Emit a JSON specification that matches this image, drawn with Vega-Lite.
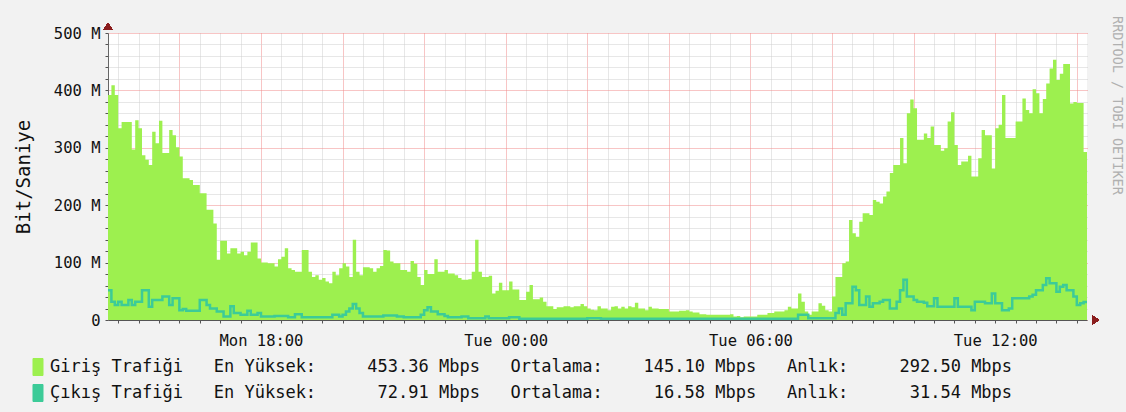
{
  "$schema": "https://vega.github.io/schema/vega-lite/v6.json",
  "width": 979,
  "height": 287,
  "autosize": "none",
  "padding": {"left": 108, "top": 33, "right": 39, "bottom": 92},
  "background": "#F2F2F2",
  "view": {"fill": "#FFFFFF", "stroke": null},
  "config": {"font": "DejaVu Sans Mono"},
  "title": {"text": "RRDTOOL / TOBI OETIKER", "orient": "right", "anchor": "start", "frame": "group", "offset": 10, "dx": -17, "font": "DejaVu Sans Mono", "fontSize": 13.5, "fontWeight": "normal", "color": "#B0B0B0"},
  "data": {"values": [
    {"t":"2024-01-15T14:15","i":392,"o":52},{"t":"2024-01-15T14:20","i":409,"o":32},{"t":"2024-01-15T14:25","i":392,"o":26},{"t":"2024-01-15T14:30","i":334,"o":32},{"t":"2024-01-15T14:35","i":345,"o":26},{"t":"2024-01-15T14:40","i":345,"o":26},{"t":"2024-01-15T14:45","i":345,"o":35},{"t":"2024-01-15T14:50","i":297,"o":26},{"t":"2024-01-15T14:55","i":348,"o":32},
    {"t":"2024-01-15T15:00","i":334,"o":32},{"t":"2024-01-15T15:05","i":287,"o":52},{"t":"2024-01-15T15:10","i":279,"o":52},{"t":"2024-01-15T15:15","i":270,"o":23},{"t":"2024-01-15T15:20","i":328,"o":35},{"t":"2024-01-15T15:25","i":308,"o":35},{"t":"2024-01-15T15:30","i":347,"o":35},{"t":"2024-01-15T15:35","i":291,"o":41},{"t":"2024-01-15T15:40","i":291,"o":41},{"t":"2024-01-15T15:45","i":331,"o":26},{"t":"2024-01-15T15:50","i":322,"o":38},{"t":"2024-01-15T15:55","i":301,"o":38},
    {"t":"2024-01-15T16:00","i":285,"o":17},{"t":"2024-01-15T16:05","i":247,"o":19},{"t":"2024-01-15T16:10","i":247,"o":16},{"t":"2024-01-15T16:15","i":244,"o":16},{"t":"2024-01-15T16:20","i":235,"o":16},{"t":"2024-01-15T16:25","i":235,"o":16},{"t":"2024-01-15T16:30","i":221,"o":35},{"t":"2024-01-15T16:35","i":221,"o":35},{"t":"2024-01-15T16:40","i":192,"o":26},{"t":"2024-01-15T16:45","i":192,"o":20},{"t":"2024-01-15T16:50","i":168,"o":20},{"t":"2024-01-15T16:55","i":105,"o":15},
    {"t":"2024-01-15T17:00","i":138,"o":15},{"t":"2024-01-15T17:05","i":138,"o":6},{"t":"2024-01-15T17:10","i":116,"o":6},{"t":"2024-01-15T17:15","i":125,"o":24},{"t":"2024-01-15T17:20","i":125,"o":12},{"t":"2024-01-15T17:25","i":116,"o":12},{"t":"2024-01-15T17:30","i":119,"o":9},{"t":"2024-01-15T17:35","i":113,"o":9},{"t":"2024-01-15T17:40","i":119,"o":16},{"t":"2024-01-15T17:45","i":135,"o":9},{"t":"2024-01-15T17:50","i":135,"o":9},{"t":"2024-01-15T17:55","i":107,"o":12},
    {"t":"2024-01-15T18:00","i":100,"o":6},{"t":"2024-01-15T18:05","i":100,"o":6},{"t":"2024-01-15T18:10","i":99,"o":6},{"t":"2024-01-15T18:15","i":99,"o":6},{"t":"2024-01-15T18:20","i":93,"o":7},{"t":"2024-01-15T18:25","i":106,"o":7},{"t":"2024-01-15T18:30","i":110,"o":7},{"t":"2024-01-15T18:35","i":125,"o":7},{"t":"2024-01-15T18:40","i":90,"o":5},{"t":"2024-01-15T18:45","i":87,"o":5},{"t":"2024-01-15T18:50","i":84,"o":10},{"t":"2024-01-15T18:55","i":84,"o":10},
    {"t":"2024-01-15T19:00","i":122,"o":5},{"t":"2024-01-15T19:05","i":122,"o":5},{"t":"2024-01-15T19:10","i":84,"o":5},{"t":"2024-01-15T19:15","i":75,"o":5},{"t":"2024-01-15T19:20","i":78,"o":5},{"t":"2024-01-15T19:25","i":70,"o":5},{"t":"2024-01-15T19:30","i":73,"o":5},{"t":"2024-01-15T19:35","i":67,"o":5},{"t":"2024-01-15T19:40","i":64,"o":5},{"t":"2024-01-15T19:45","i":84,"o":9},{"t":"2024-01-15T19:50","i":78,"o":9},{"t":"2024-01-15T19:55","i":90,"o":6},
    {"t":"2024-01-15T20:00","i":99,"o":9},{"t":"2024-01-15T20:05","i":93,"o":15},{"t":"2024-01-15T20:10","i":75,"o":20},{"t":"2024-01-15T20:15","i":140,"o":28},{"t":"2024-01-15T20:20","i":84,"o":20},{"t":"2024-01-15T20:25","i":78,"o":12},{"t":"2024-01-15T20:30","i":92,"o":6},{"t":"2024-01-15T20:35","i":92,"o":6},{"t":"2024-01-15T20:40","i":90,"o":6},{"t":"2024-01-15T20:45","i":84,"o":6},{"t":"2024-01-15T20:50","i":90,"o":6},{"t":"2024-01-15T20:55","i":94,"o":6},
    {"t":"2024-01-15T21:00","i":122,"o":8},{"t":"2024-01-15T21:05","i":121,"o":8},{"t":"2024-01-15T21:10","i":102,"o":8},{"t":"2024-01-15T21:15","i":99,"o":8},{"t":"2024-01-15T21:20","i":99,"o":6},{"t":"2024-01-15T21:25","i":87,"o":6},{"t":"2024-01-15T21:30","i":87,"o":5},{"t":"2024-01-15T21:35","i":84,"o":5},{"t":"2024-01-15T21:40","i":103,"o":5},{"t":"2024-01-15T21:45","i":98,"o":5},{"t":"2024-01-15T21:50","i":75,"o":5},{"t":"2024-01-15T21:55","i":61,"o":9},
    {"t":"2024-01-15T22:00","i":87,"o":17},{"t":"2024-01-15T22:05","i":80,"o":22},{"t":"2024-01-15T22:10","i":80,"o":15},{"t":"2024-01-15T22:15","i":106,"o":15},{"t":"2024-01-15T22:20","i":84,"o":10},{"t":"2024-01-15T22:25","i":84,"o":10},{"t":"2024-01-15T22:30","i":87,"o":7},{"t":"2024-01-15T22:35","i":81,"o":5},{"t":"2024-01-15T22:40","i":81,"o":5},{"t":"2024-01-15T22:45","i":78,"o":5},{"t":"2024-01-15T22:50","i":73,"o":5},{"t":"2024-01-15T22:55","i":70,"o":6},
    {"t":"2024-01-15T23:00","i":70,"o":6},{"t":"2024-01-15T23:05","i":71,"o":3},{"t":"2024-01-15T23:10","i":84,"o":3},{"t":"2024-01-15T23:15","i":140,"o":3},{"t":"2024-01-15T23:20","i":84,"o":3},{"t":"2024-01-15T23:25","i":75,"o":3},{"t":"2024-01-15T23:30","i":75,"o":6},{"t":"2024-01-15T23:35","i":77,"o":3},{"t":"2024-01-15T23:40","i":46,"o":3},{"t":"2024-01-15T23:45","i":51,"o":3},{"t":"2024-01-15T23:50","i":65,"o":3},{"t":"2024-01-15T23:55","i":52,"o":3},
    {"t":"2024-01-16T00:00","i":52,"o":3},{"t":"2024-01-16T00:05","i":67,"o":5},{"t":"2024-01-16T00:10","i":53,"o":5},{"t":"2024-01-16T00:15","i":53,"o":5},{"t":"2024-01-16T00:20","i":35,"o":2},{"t":"2024-01-16T00:25","i":35,"o":2},{"t":"2024-01-16T00:30","i":49,"o":2},{"t":"2024-01-16T00:35","i":61,"o":2},{"t":"2024-01-16T00:40","i":36,"o":2},{"t":"2024-01-16T00:45","i":36,"o":2},{"t":"2024-01-16T00:50","i":39,"o":2},{"t":"2024-01-16T00:55","i":32,"o":2},
    {"t":"2024-01-16T01:00","i":24,"o":2},{"t":"2024-01-16T01:05","i":24,"o":2},{"t":"2024-01-16T01:10","i":19,"o":2},{"t":"2024-01-16T01:15","i":22,"o":2},{"t":"2024-01-16T01:20","i":22,"o":2},{"t":"2024-01-16T01:25","i":24,"o":2},{"t":"2024-01-16T01:30","i":24,"o":2},{"t":"2024-01-16T01:35","i":22,"o":2},{"t":"2024-01-16T01:40","i":24,"o":2},{"t":"2024-01-16T01:45","i":24,"o":2},{"t":"2024-01-16T01:50","i":28,"o":2},{"t":"2024-01-16T01:55","i":24,"o":2},
    {"t":"2024-01-16T02:00","i":20,"o":3},{"t":"2024-01-16T02:05","i":18,"o":3},{"t":"2024-01-16T02:10","i":17,"o":3},{"t":"2024-01-16T02:15","i":24,"o":3},{"t":"2024-01-16T02:20","i":20,"o":2},{"t":"2024-01-16T02:25","i":20,"o":2},{"t":"2024-01-16T02:30","i":17,"o":2},{"t":"2024-01-16T02:35","i":23,"o":2},{"t":"2024-01-16T02:40","i":24,"o":2},{"t":"2024-01-16T02:45","i":20,"o":2},{"t":"2024-01-16T02:50","i":23,"o":2},{"t":"2024-01-16T02:55","i":20,"o":2},
    {"t":"2024-01-16T03:00","i":24,"o":2},{"t":"2024-01-16T03:05","i":22,"o":2},{"t":"2024-01-16T03:10","i":30,"o":2},{"t":"2024-01-16T03:15","i":20,"o":2},{"t":"2024-01-16T03:20","i":20,"o":2},{"t":"2024-01-16T03:25","i":17,"o":2},{"t":"2024-01-16T03:30","i":23,"o":2},{"t":"2024-01-16T03:35","i":20,"o":2},{"t":"2024-01-16T03:40","i":20,"o":2},{"t":"2024-01-16T03:45","i":19,"o":2},{"t":"2024-01-16T03:50","i":19,"o":2},{"t":"2024-01-16T03:55","i":19,"o":2},
    {"t":"2024-01-16T04:00","i":15,"o":2},{"t":"2024-01-16T04:05","i":15,"o":2},{"t":"2024-01-16T04:10","i":15,"o":2},{"t":"2024-01-16T04:15","i":16,"o":2},{"t":"2024-01-16T04:20","i":16,"o":2},{"t":"2024-01-16T04:25","i":17,"o":2},{"t":"2024-01-16T04:30","i":15,"o":2},{"t":"2024-01-16T04:35","i":13,"o":2},{"t":"2024-01-16T04:40","i":13,"o":2},{"t":"2024-01-16T04:45","i":10,"o":2},{"t":"2024-01-16T04:50","i":10,"o":2},{"t":"2024-01-16T04:55","i":9,"o":2},
    {"t":"2024-01-16T05:00","i":9,"o":2},{"t":"2024-01-16T05:05","i":9,"o":2},{"t":"2024-01-16T05:10","i":9,"o":2},{"t":"2024-01-16T05:15","i":9,"o":2},{"t":"2024-01-16T05:20","i":9,"o":2},{"t":"2024-01-16T05:25","i":9,"o":2},{"t":"2024-01-16T05:30","i":10,"o":2},{"t":"2024-01-16T05:35","i":6,"o":2},{"t":"2024-01-16T05:40","i":7,"o":2},{"t":"2024-01-16T05:45","i":5,"o":2},{"t":"2024-01-16T05:50","i":6,"o":2},{"t":"2024-01-16T05:55","i":6,"o":2},
    {"t":"2024-01-16T06:00","i":6,"o":2},{"t":"2024-01-16T06:05","i":6,"o":2},{"t":"2024-01-16T06:10","i":9,"o":2},{"t":"2024-01-16T06:15","i":9,"o":2},{"t":"2024-01-16T06:20","i":9,"o":2},{"t":"2024-01-16T06:25","i":12,"o":2},{"t":"2024-01-16T06:30","i":12,"o":2},{"t":"2024-01-16T06:35","i":15,"o":2},{"t":"2024-01-16T06:40","i":15,"o":2},{"t":"2024-01-16T06:45","i":15,"o":2},{"t":"2024-01-16T06:50","i":17,"o":2},{"t":"2024-01-16T06:55","i":23,"o":2},
    {"t":"2024-01-16T07:00","i":20,"o":2},{"t":"2024-01-16T07:05","i":20,"o":2},{"t":"2024-01-16T07:10","i":46,"o":9},{"t":"2024-01-16T07:15","i":32,"o":9},{"t":"2024-01-16T07:20","i":15,"o":9},{"t":"2024-01-16T07:25","i":9,"o":3},{"t":"2024-01-16T07:30","i":15,"o":3},{"t":"2024-01-16T07:35","i":15,"o":3},{"t":"2024-01-16T07:40","i":29,"o":3},{"t":"2024-01-16T07:45","i":25,"o":3},{"t":"2024-01-16T07:50","i":17,"o":3},{"t":"2024-01-16T07:55","i":15,"o":3},
    {"t":"2024-01-16T08:00","i":41,"o":3},{"t":"2024-01-16T08:05","i":75,"o":12},{"t":"2024-01-16T08:10","i":75,"o":20},{"t":"2024-01-16T08:15","i":99,"o":9},{"t":"2024-01-16T08:20","i":102,"o":29},{"t":"2024-01-16T08:25","i":174,"o":29},{"t":"2024-01-16T08:30","i":151,"o":58},{"t":"2024-01-16T08:35","i":145,"o":52},{"t":"2024-01-16T08:40","i":171,"o":26},{"t":"2024-01-16T08:45","i":186,"o":26},{"t":"2024-01-16T08:50","i":186,"o":41},{"t":"2024-01-16T08:55","i":183,"o":23},
    {"t":"2024-01-16T09:00","i":209,"o":29},{"t":"2024-01-16T09:05","i":206,"o":29},{"t":"2024-01-16T09:10","i":203,"o":32},{"t":"2024-01-16T09:15","i":215,"o":35},{"t":"2024-01-16T09:20","i":224,"o":35},{"t":"2024-01-16T09:25","i":256,"o":20},{"t":"2024-01-16T09:30","i":270,"o":20},{"t":"2024-01-16T09:35","i":270,"o":32},{"t":"2024-01-16T09:40","i":317,"o":52},{"t":"2024-01-16T09:45","i":273,"o":70},{"t":"2024-01-16T09:50","i":360,"o":41},{"t":"2024-01-16T09:55","i":384,"o":41},
    {"t":"2024-01-16T10:00","i":369,"o":35},{"t":"2024-01-16T10:05","i":314,"o":32},{"t":"2024-01-16T10:10","i":314,"o":32},{"t":"2024-01-16T10:15","i":325,"o":30},{"t":"2024-01-16T10:20","i":317,"o":24},{"t":"2024-01-16T10:25","i":337,"o":24},{"t":"2024-01-16T10:30","i":305,"o":38},{"t":"2024-01-16T10:35","i":305,"o":23},{"t":"2024-01-16T10:40","i":295,"o":23},{"t":"2024-01-16T10:45","i":299,"o":23},{"t":"2024-01-16T10:50","i":346,"o":23},{"t":"2024-01-16T10:55","i":362,"o":23},
    {"t":"2024-01-16T11:00","i":305,"o":38},{"t":"2024-01-16T11:05","i":270,"o":23},{"t":"2024-01-16T11:10","i":276,"o":23},{"t":"2024-01-16T11:15","i":276,"o":23},{"t":"2024-01-16T11:20","i":286,"o":23},{"t":"2024-01-16T11:25","i":250,"o":17},{"t":"2024-01-16T11:30","i":250,"o":32},{"t":"2024-01-16T11:35","i":282,"o":32},{"t":"2024-01-16T11:40","i":331,"o":32},{"t":"2024-01-16T11:45","i":322,"o":29},{"t":"2024-01-16T11:50","i":322,"o":29},{"t":"2024-01-16T11:55","i":264,"o":46},
    {"t":"2024-01-16T12:00","i":334,"o":29},{"t":"2024-01-16T12:05","i":340,"o":29},{"t":"2024-01-16T12:10","i":392,"o":17},{"t":"2024-01-16T12:15","i":317,"o":17},{"t":"2024-01-16T12:20","i":317,"o":20},{"t":"2024-01-16T12:25","i":317,"o":38},{"t":"2024-01-16T12:30","i":346,"o":38},{"t":"2024-01-16T12:35","i":346,"o":38},{"t":"2024-01-16T12:40","i":386,"o":38},{"t":"2024-01-16T12:45","i":366,"o":38},{"t":"2024-01-16T12:50","i":360,"o":41},{"t":"2024-01-16T12:55","i":402,"o":44},
    {"t":"2024-01-16T13:00","i":395,"o":52},{"t":"2024-01-16T13:05","i":360,"o":52},{"t":"2024-01-16T13:10","i":385,"o":61},{"t":"2024-01-16T13:15","i":412,"o":72.9},{"t":"2024-01-16T13:20","i":438,"o":64},{"t":"2024-01-16T13:25","i":453.4,"o":64},{"t":"2024-01-16T13:30","i":418,"o":49},{"t":"2024-01-16T13:35","i":429,"o":58},{"t":"2024-01-16T13:40","i":446,"o":61},{"t":"2024-01-16T13:45","i":446,"o":52},{"t":"2024-01-16T13:50","i":377,"o":52},{"t":"2024-01-16T13:55","i":380,"o":41},
    {"t":"2024-01-16T14:00","i":378,"o":26},{"t":"2024-01-16T14:05","i":378,"o":29},{"t":"2024-01-16T14:10","i":292.5,"o":31.5},{"t":"2024-01-16T14:15","i":292.5,"o":31.5}
  ]},
  "encoding": {
    "x": {
      "field": "t", "type": "temporal",
      "scale": {"domain": [{"year": 2024, "month": 1, "date": 15, "hours": 14, "minutes": 15}, {"year": 2024, "month": 1, "date": 16, "hours": 14, "minutes": 15}]},
      "axis": {
        "title": null,
        "tickCount": 48,
        "labelExpr": "hours(datum.value) % 6 == 0 && minutes(datum.value) == 0 ? timeFormat(datum.value, '%a %H:%M') : ''",
        "labelFont": "DejaVu Sans Mono", "labelFontSize": 15.5, "labelColor": "#111111",
        "labelPadding": 10, "labelOverlap": false, "labelFlush": false,
        "grid": true,
        "gridColor": {"condition": {"test": "hours(datum.value) % 2 == 0 && minutes(datum.value) == 0", "value": "#F08A8A"}, "value": "#CFCFCF"},
        "gridDash": [1, 1],
        "tickSize": 3, "tickColor": "#555555",
        "domainColor": "#555555", "domainWidth": 1
      }
    }
  },
  "layer": [
    {
      "mark": {"type": "area", "interpolate": "step-after", "clip": true},
      "encoding": {
        "y": {
          "field": "i", "type": "quantitative",
          "scale": {"domain": [0, 500], "nice": false},
          "axis": {
            "title": "Bit/Saniye",
            "titleFont": "DejaVu Sans Mono", "titleFontSize": 19, "titleFontWeight": "normal", "titleColor": "#111111", "titlePadding": 20,
            "values": [0,20,40,60,80,100,120,140,160,180,200,220,240,260,280,300,320,340,360,380,400,420,440,460,480,500],
            "labelExpr": "datum.value % 100 == 0 ? (datum.value == 0 ? '0' : datum.value + ' M') : ''",
            "labelFont": "DejaVu Sans Mono", "labelFontSize": 15.5, "labelColor": "#111111",
            "labelPadding": 5, "labelOverlap": false, "labelFlush": false,
            "grid": true,
            "gridColor": {"condition": {"test": "datum.value % 100 == 0", "value": "#F08A8A"}, "value": "#CFCFCF"},
            "gridDash": [1, 1],
            "tickSize": 3, "tickColor": "#555555",
            "domainColor": "#666666", "domainWidth": 1
          }
        },
        "color": {
          "datum": "Giriş Trafiği", "type": "nominal",
          "scale": {"domain": ["Giriş Trafiği", "Çıkış Trafiği"], "range": ["#9DF04F", "#3CCB98"]},
          "legend": {
            "orient": "none", "legendX": -79, "legendY": 325, "direction": "vertical",
            "title": null, "padding": 0, "rowPadding": 4,
            "symbolType": "M-0.59,-1H0.59V1H-0.59Z", "symbolSize": 289,
            "symbolStrokeColor": "#1A1A1A", "symbolStrokeWidth": 1,
            "labelFont": "DejaVu Sans Mono", "labelFontSize": 17, "labelColor": "#111111", "labelLimit": 0, "labelOffset": 3,
            "labelExpr": "datum.label == 'Giriş Trafiği' ? 'Giriş Trafiği\u00a0\u00a0\u00a0En Yüksek:\u00a0\u00a0\u00a0\u00a0\u00a0453.36 Mbps\u00a0\u00a0\u00a0Ortalama:\u00a0\u00a0\u00a0\u00a0145.10 Mbps\u00a0\u00a0\u00a0Anlık:\u00a0\u00a0\u00a0\u00a0\u00a0292.50 Mbps' : 'Çıkış Trafiği\u00a0\u00a0\u00a0En Yüksek:\u00a0\u00a0\u00a0\u00a0\u00a0\u00a072.91 Mbps\u00a0\u00a0\u00a0Ortalama:\u00a0\u00a0\u00a0\u00a0\u00a016.58 Mbps\u00a0\u00a0\u00a0Anlık:\u00a0\u00a0\u00a0\u00a0\u00a0\u00a031.54 Mbps'",
            "encode": {"symbols": {"update": {"fill": {"scale": "color", "field": "value"}, "stroke": {"value": "#1A1A1A"}, "strokeWidth": {"value": 1}, "opacity": {"value": 1}}}}
          }
        }
      }
    },
    {
      "mark": {"type": "line", "interpolate": "step-after", "strokeWidth": 2.5, "clip": true},
      "encoding": {
        "y": {
          "field": "o", "type": "quantitative",
          "scale": {"domain": [0, 500], "nice": false},
          "axis": {
            "title": "Bit/Saniye",
            "titleFont": "DejaVu Sans Mono", "titleFontSize": 19, "titleFontWeight": "normal", "titleColor": "#111111", "titlePadding": 20,
            "values": [0,20,40,60,80,100,120,140,160,180,200,220,240,260,280,300,320,340,360,380,400,420,440,460,480,500],
            "labelExpr": "datum.value % 100 == 0 ? (datum.value == 0 ? '0' : datum.value + ' M') : ''",
            "labelFont": "DejaVu Sans Mono", "labelFontSize": 15.5, "labelColor": "#111111",
            "labelPadding": 5, "labelOverlap": false, "labelFlush": false,
            "grid": true,
            "gridColor": {"condition": {"test": "datum.value % 100 == 0", "value": "#F08A8A"}, "value": "#CFCFCF"},
            "gridDash": [1, 1],
            "tickSize": 3, "tickColor": "#555555",
            "domainColor": "#666666", "domainWidth": 1
          }
        },
        "color": {"datum": "Çıkış Trafiği", "type": "nominal"}
      }
    },
    {
      "mark": {"type": "point", "shape": "triangle-up", "filled": true, "size": 50, "fill": "#8B1E1E", "stroke": "#8B1E1E", "strokeWidth": 1, "opacity": 1, "clip": false},
      "encoding": {
        "x": {
          "datum": {"year": 2024, "month": 1, "date": 15, "hours": 14, "minutes": 15}, "type": "temporal",
          "axis": {
            "title": null,
            "tickCount": 48,
            "labelExpr": "hours(datum.value) % 6 == 0 && minutes(datum.value) == 0 ? timeFormat(datum.value, '%a %H:%M') : ''",
            "labelFont": "DejaVu Sans Mono", "labelFontSize": 15.5, "labelColor": "#111111",
            "labelPadding": 10, "labelOverlap": false, "labelFlush": false,
            "grid": true,
            "gridColor": {"condition": {"test": "hours(datum.value) % 2 == 0 && minutes(datum.value) == 0", "value": "#F08A8A"}, "value": "#CFCFCF"},
            "gridDash": [1, 1],
            "tickSize": 3, "tickColor": "#555555",
            "domainColor": "#555555", "domainWidth": 1
          }
        },
        "y": {
          "datum": 512, "type": "quantitative",
          "axis": {
            "title": "Bit/Saniye",
            "titleFont": "DejaVu Sans Mono", "titleFontSize": 19, "titleFontWeight": "normal", "titleColor": "#111111", "titlePadding": 20,
            "values": [0,20,40,60,80,100,120,140,160,180,200,220,240,260,280,300,320,340,360,380,400,420,440,460,480,500],
            "labelExpr": "datum.value % 100 == 0 ? (datum.value == 0 ? '0' : datum.value + ' M') : ''",
            "labelFont": "DejaVu Sans Mono", "labelFontSize": 15.5, "labelColor": "#111111",
            "labelPadding": 5, "labelOverlap": false, "labelFlush": false,
            "grid": true,
            "gridColor": {"condition": {"test": "datum.value % 100 == 0", "value": "#F08A8A"}, "value": "#CFCFCF"},
            "gridDash": [1, 1],
            "tickSize": 3, "tickColor": "#555555",
            "domainColor": "#666666", "domainWidth": 1
          }
        }
      }
    },
    {
      "mark": {"type": "point", "shape": "triangle-right", "filled": true, "size": 50, "fill": "#8B1E1E", "stroke": "#8B1E1E", "strokeWidth": 1, "opacity": 1, "clip": false},
      "encoding": {
        "x": {
          "datum": {"year": 2024, "month": 1, "date": 16, "hours": 14, "minutes": 28}, "type": "temporal",
          "axis": {
            "title": null,
            "tickCount": 48,
            "labelExpr": "hours(datum.value) % 6 == 0 && minutes(datum.value) == 0 ? timeFormat(datum.value, '%a %H:%M') : ''",
            "labelFont": "DejaVu Sans Mono", "labelFontSize": 15.5, "labelColor": "#111111",
            "labelPadding": 10, "labelOverlap": false, "labelFlush": false,
            "grid": true,
            "gridColor": {"condition": {"test": "hours(datum.value) % 2 == 0 && minutes(datum.value) == 0", "value": "#F08A8A"}, "value": "#CFCFCF"},
            "gridDash": [1, 1],
            "tickSize": 3, "tickColor": "#555555",
            "domainColor": "#555555", "domainWidth": 1
          }
        },
        "y": {
          "datum": 0, "type": "quantitative",
          "axis": {
            "title": "Bit/Saniye",
            "titleFont": "DejaVu Sans Mono", "titleFontSize": 19, "titleFontWeight": "normal", "titleColor": "#111111", "titlePadding": 20,
            "values": [0,20,40,60,80,100,120,140,160,180,200,220,240,260,280,300,320,340,360,380,400,420,440,460,480,500],
            "labelExpr": "datum.value % 100 == 0 ? (datum.value == 0 ? '0' : datum.value + ' M') : ''",
            "labelFont": "DejaVu Sans Mono", "labelFontSize": 15.5, "labelColor": "#111111",
            "labelPadding": 5, "labelOverlap": false, "labelFlush": false,
            "grid": true,
            "gridColor": {"condition": {"test": "datum.value % 100 == 0", "value": "#F08A8A"}, "value": "#CFCFCF"},
            "gridDash": [1, 1],
            "tickSize": 3, "tickColor": "#555555",
            "domainColor": "#666666", "domainWidth": 1
          }
        }
      }
    }
  ]
}
